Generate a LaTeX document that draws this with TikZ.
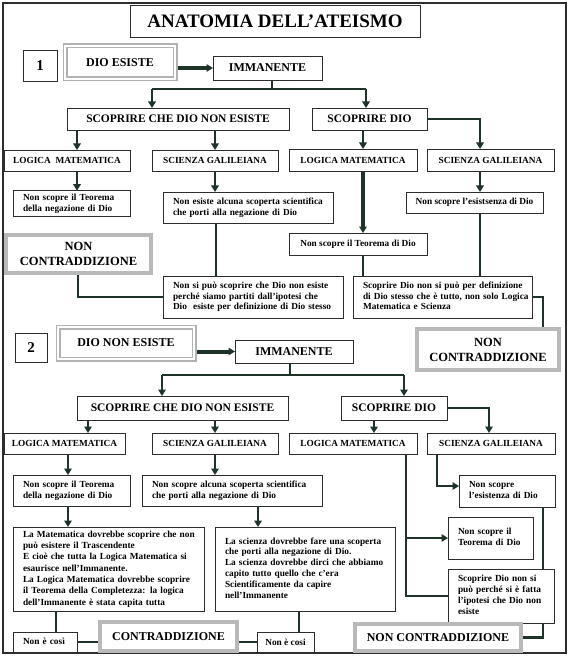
\documentclass[tikz,border=0pt]{standalone}
\usepackage{fontspec}
\setmainfont{Liberation Serif}
\usetikzlibrary{arrows.meta,backgrounds}
\definecolor{wirec}{RGB}{30,52,40}
\definecolor{frm}{RGB}{45,45,45}
\newdimen\BXw \newdimen\BXh \newdimen\BXt
\newcommand\Bx[7][]{\BXw=\dimexpr #5pt-#3pt\relax \BXh=\dimexpr #6pt-#4pt\relax
  \node[bx,#1,minimum width=\BXw,minimum height=\BXh] (#2) at ({(#3+#5)/2},{(#4+#6)/2}) {#7};}
\newcommand\Bt[7][]{\BXw=\dimexpr #5pt-#3pt\relax \BXh=\dimexpr #6pt-#4pt\relax \BXt=\dimexpr #5pt-#3pt-20pt\relax
  \node[bx,#1,align=left,text width=\BXt,minimum width=\BXw,minimum height=\BXh] (#2) at ({(#3+#5)/2},{(#4+#6)/2}) {\begin{tabular}{@{}l@{}}#7\end{tabular}};}
\tikzset{
  bx/.style={draw=frm,line width=0.8pt,fill=white,inner sep=2pt,outer sep=0pt,
    font=\bfseries\fontsize{9.3}{10.8}\selectfont},
  ttl/.style={font=\bfseries\fontsize{19}{22}\selectfont},
  num/.style={font=\bfseries\fontsize{15}{18}\selectfont},
  bigcap/.style={font=\bfseries\fontsize{12}{14}\selectfont},
  midcap/.style={font=\bfseries\fontsize{11.5}{14}\selectfont},
  capf/.style={font=\bfseries\fontsize{9.3}{11}\selectfont},
  ncfont/.style={font=\bfseries\fontsize{12.5}{15}\selectfont,align=center},
  cfont/.style={font=\bfseries\fontsize{12}{14}\selectfont},
  dbl/.style={draw=gray!60,line width=1.5pt,double=white,double distance=2pt},
  gfr/.style={draw=gray!55,line width=4pt},
  wire/.style={draw=wirec,line width=2.8pt,line join=miter},
  fatwire/.style={draw=wirec,line width=4pt},
  arr/.style={-{Triangle[length=6.5pt,width=7.5pt]}},
}
\begin{document}
\begin{tikzpicture}[x=1pt,y=-1pt]
\useasboundingbox (0,0) rectangle (574,660);
% ---------- section 1 nodes
\Bx[ttl]{title}{130}{5}{420}{37}{ANATOMIA DELL’ATEISMO}
\Bx[num]{one}{23}{50}{57}{81}{1}
\Bx[dbl,bigcap]{dioesiste}{65}{46}{175}{79}{DIO ESISTE}
\Bx[bigcap]{immA}{213}{56}{322}{80}{IMMANENTE}
\Bx[midcap]{scdA}{67}{108}{289}{130}{SCOPRIRE CHE DIO NON ESISTE}
\Bx[midcap]{sdA}{312}{108}{427}{130}{SCOPRIRE DIO}
\Bx[capf]{lmA}{4}{150}{130}{171}{LOGICA~ MATEMATICA}
\Bx[capf]{sgA}{152}{150}{278}{171}{SCIENZA GALILEIANA}
\Bx[capf]{lmB}{289}{149}{417}{171}{LOGICA MATEMATICA}
\Bx[capf]{sgB}{427}{149}{554}{171}{SCIENZA GALILEIANA}
\Bt{ntA}{13}{192}{130}{215}{Non scopre il Teorema\\della negazione di Dio}
\Bt{neA}{163}{192}{333}{223}{Non esiste alcuna scoperta scientifica\\che porti alla negazione di Dio}
\Bx{nseA}{406}{192}{543}{213}{Non scopre l’esistsenza di Dio}
\Bx{ntdA}{289}{233}{427}{255}{Non scopre il Teorema di Dio}
\Bx[gfr,ncfont]{ncA}{6}{235}{151}{273}{NON\\CONTRADDIZIONE}
\Bt{nspA}{163}{276}{343}{318}{Non si può scoprire che Dio non esiste\\perché siamo partiti dall’ipotesi che\\Dio\ \ esiste per definizione di Dio stesso}
\Bt{sdnA}{353}{276}{532}{318}{Scoprire Dio non si può per definizione\\di Dio stesso che è tutto, non solo Logica\\Matematica e Scienza}
\Bx[gfr,ncfont]{ncB}{417}{329}{559}{370}{NON\\CONTRADDIZIONE}
% ---------- section 2 nodes
\Bx[num]{two}{15}{333}{47}{362}{2}
\Bx[dbl,bigcap]{dionon}{58}{327}{194}{359}{DIO NON ESISTE}
\Bx[bigcap]{immB}{235}{340}{353}{363}{IMMANENTE}
\Bx[midcap]{scdB}{77}{396}{288}{420}{SCOPRIRE CHE DIO NON ESISTE}
\Bx[midcap]{sdB}{341}{396}{447}{420}{SCOPRIRE DIO}
\Bx[capf]{lmC}{4}{433}{125}{454}{LOGICA MATEMATICA}
\Bx[capf]{sgC}{152}{433}{278}{454}{SCIENZA GALILEIANA}
\Bx[capf]{lmD}{289}{433}{417}{454}{LOGICA MATEMATICA}
\Bx[capf]{sgD}{427}{433}{555}{454}{SCIENZA GALILEIANA}
\Bt{ntC}{13}{475}{130}{506}{Non scopre il Teorema\\della negazione di Dio}
\Bt{nsC}{142}{475}{322}{506}{Non scopre alcuna scoperta scientifica\\che porti alla negazione di Dio}
\Bt{nseD}{459}{475}{555}{507}{Non scopre\\l’esistenza di Dio}
\Bt{ntdD}{448}{517}{533}{559}{Non scopre il\\Teorema di Dio}
\Bt{sdnD}{448}{569}{554}{623}{Scoprire Dio non si\\può perché si è fatta\\l’ipotesi che Dio non\\esiste}
\Bt[font=\bfseries\fontsize{9.3}{11.3}\selectfont]{lmath}{13}{527}{204}{611}{La Matematica dovrebbe scoprire che non\\può esistere il Trascendente\\E cioè che tutta la Logica Matematica si\\esaurisce nell’Immanente.\\La Logica Matematica dovrebbe scoprire\\il Teorema della Completezza: la logica\\dell’Immanente è stata capita tutta}
\Bt{lsci}{215}{527}{395}{611}{La scienza dovrebbe fare una scoperta\\che porti alla negazione di Dio.\\La scienza dovrebbe dirci che abbiamo\\capito tutto quello che c’era\\Scientificamente da capire\\nell’Immanente}
\Bt{necA}{13}{632}{77}{652}{Non è così}
\Bx{necB}{257}{632}{314}{652}{Non è cosi}
\Bx[gfr,cfont]{contr}{100}{622}{237}{651}{CONTRADDIZIONE}
\Bx[gfr,cfont]{ncC}{355}{624}{521}{651}{NON CONTRADDIZIONE}
% ---------- background: page, frame, connectors
\begin{scope}[on background layer]
\fill[white] (0,0) rectangle (574,660);
\draw[frm,line width=1.5pt] (3,3) rectangle (566,653);
% section 1
\draw[fatwire,arr] (dioesiste.east |- immA.west) -- (immA.west);
\coordinate (brA) at (272,89);
\coordinate (brAl) at (152,89);
\coordinate (brAr) at (366,89);
\draw[wire] (immA.south -| brA) -- (brA);
\draw[wire] (brAl) -- (brAr);
\draw[wire,arr] (brAl) -- (brAl |- scdA.north);
\draw[wire,arr] (brAr) -- (brAr |- sdA.north);
\draw[wire,arr] (scdA.south -| 77,0) -- (lmA.north -| 77,0);
\draw[wire,arr] (scdA.south -| 215,0) -- (sgA.north -| 215,0);
\draw[wire,arr] (sdA.south -| 363,0) -- (lmB.north -| 363,0);
\draw[wire,arr] (sdA.east) -| (sgB.north -| 480,0);
\draw[wire,arr] (lmA.south -| 77,0) -- (ntA.north -| 77,0);
\draw[wire,arr] (sgA.south -| 215,0) -- (neA.north -| 215,0);
\draw[fatwire,arr] (lmB.south -| 363,0) -- (ntdA.north -| 363,0);
\draw[wire,arr] (sgB.south -| 480,0) -- (nseA.north -| 480,0);
\draw[wire] (neA.south -| 216,0) -- (nspA.north -| 216,0);
\draw[wire] (ncA.south -| 78,0) |- (nspA.west);
\draw[wire] (ntdA.south -| 363,0) -- (sdnA.north -| 363,0);
\draw[wire] (nseA.south -| 480,0) -- (sdnA.north -| 480,0);
\draw[wire] (sdnA.east) -| (ncB.north -| 543,0);
% section 2
\draw[fatwire,arr] (dionon.east |- immB.west) -- (immB.west);
\coordinate (brB) at (290,375);
\coordinate (brBl) at (162,375);
\coordinate (brBr) at (404,375);
\draw[wire] (immB.south -| brB) -- (brB);
\draw[wire] (brBl) -- (brBr);
\draw[wire,arr] (brBl) -- (brBl |- scdB.north);
\draw[wire,arr] (brBr) -- (brBr |- sdB.north);
\draw[wire,arr] (scdB.south -| 88,0) -- (lmC.north -| 88,0);
\draw[wire,arr] (scdB.south -| 215,0) -- (sgC.north -| 215,0);
\draw[wire,arr] (sdB.south -| 374,0) -- (lmD.north -| 374,0);
\draw[wire,arr] (sdB.east) -| (sgD.north -| 489,0);
\draw[wire,arr] (lmC.south -| 68,0) -- (ntC.north -| 68,0);
\draw[wire,arr] (ntC.south -| 68,0) -- (lmath.north -| 68,0);
\draw[wire,arr] (sgC.south -| 215,0) -- (nsC.north -| 215,0);
\draw[wire,arr] (nsC.south -| 258,0) -- (lsci.north -| 258,0);
\draw[wire] (lmD.south -| 406,0) |- (sdnD.west);
\draw[wire,arr] (ntdD.west -| 406,0) -- (ntdD.west);
\draw[wire,arr] (sgD.south -| 437,0) |- ([yshift=5pt]nseD.west);
\draw[wire] (nseD.south -| 543,0) |- (ncC.east);
\draw[wire] (lmath.south -| 56,0) -- (necA.north -| 56,0);
\draw[wire] (necA.east) -- (necA.east -| contr.west);
\draw[wire] (contr.east |- necB.west) -- (necB.west);
\draw[wire] (lsci.south -| 299,0) -- (necB.north -| 299,0);
\end{scope}
\end{tikzpicture}
\end{document}
